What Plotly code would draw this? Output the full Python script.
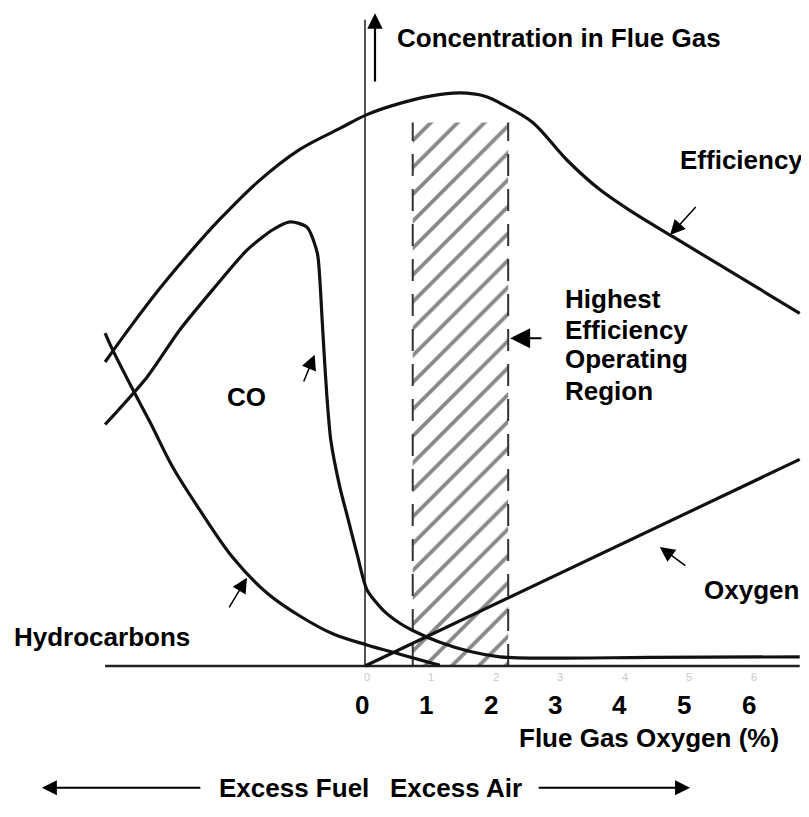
import plotly.graph_objects as go

# x = flue gas oxygen (%), y = relative concentration (0 = baseline)
eff_x = [-4.03, -3.64, -3.18, -2.71, -2.25, -1.67, -1.01, -0.39, 0.03, 0.54, 1.01,
         1.47, 1.86, 2.20, 2.60, 3.13, 3.64, 4.16, 4.78, 5.71, 6.74]
eff_y = [46.2, 51.5, 57.4, 62.9, 67.9, 73.5, 78.5, 81.7, 83.8, 85.5, 86.6,
         87.1, 86.6, 85.0, 82.6, 76.9, 72.4, 68.9, 65.2, 59.7, 53.6]

co_x = [-4.03, -3.38, -2.87, -2.36, -1.83, -1.43, -1.16, -0.90, -0.74, -0.70, -0.67,
        -0.64, -0.59, -0.53, -0.39, -0.28, -0.12, 0.03, 0.28, 0.54, 0.74, 1.16,
        1.63, 2.09, 2.56, 4.42, 6.74]
co_y = [36.7, 43.9, 51.1, 57.2, 63.2, 66.3, 67.5, 66.7, 62.8, 58.7, 53.6,
        48.5, 40.9, 34.3, 27.2, 23.0, 16.9, 11.6, 8.5, 6.5, 5.4, 3.6,
        2.2, 1.4, 1.2, 1.3, 1.4]

hc_x = [-4.03, -3.91, -3.61, -3.33, -2.98, -2.56, -2.05, -1.52, -1.01, -0.50, 0.03, 0.54, 1.16]
hc_y = [50.6, 48.0, 42.2, 37.0, 30.2, 23.7, 16.5, 11.1, 7.6, 4.9, 3.2, 1.8, 0.1]

o2_x = [0.0, 6.74]
o2_y = [0.0, 31.4]

region_x = [0.74, 2.22]     # highest efficiency operating region
region_top = 82.6
baseline_x = [-4.03, 6.74]
tick_vals = [0, 1, 2, 3, 4, 5, 6]

X_RANGE = [-5.535, 7.008]
Y_RANGE = [-24.16, 100]
FONT = "Liberation Sans, Arial, sans-serif"
INK = "#111111"

fig = go.Figure()

# hatched region
fig.add_trace(go.Scatter(
    x=[region_x[0], region_x[1], region_x[1], region_x[0], region_x[0]],
    y=[0, 0, region_top, region_top, 0],
    fill='toself', mode='none', fillcolor='rgba(0,0,0,0)',
    fillpattern=dict(shape='/', size=19, solidity=0.2, fgcolor='#111111', bgcolor='white'),
    hoverinfo='skip'))
for xv in region_x:
    fig.add_trace(go.Scatter(x=[xv, xv], y=[0, region_top], mode='lines',
                             line=dict(color='#333333', width=2, dash='22px,13px')))

# axes drawn as lines
fig.add_trace(go.Scatter(x=[0, 0], y=[0, 98.2], mode='lines',
                         line=dict(color='#555555', width=2)))
fig.add_trace(go.Scatter(x=baseline_x, y=[0, 0], mode='lines',
                         line=dict(color='#222222', width=2.5)))

# curves
fig.add_trace(go.Scatter(x=eff_x, y=eff_y, mode='lines',
                         line=dict(color=INK, width=3.2, shape='spline', smoothing=1)))
fig.add_trace(go.Scatter(x=co_x, y=co_y, mode='lines',
                         line=dict(color=INK, width=3.2, shape='spline', smoothing=0.7)))
fig.add_trace(go.Scatter(x=hc_x, y=hc_y, mode='lines',
                         line=dict(color=INK, width=3.2, shape='spline', smoothing=1)))
fig.add_trace(go.Scatter(x=o2_x, y=o2_y, mode='lines',
                         line=dict(color=INK, width=3.2)))

annotations = []


def arrow(tip, tail, width=1.5, size=2.0, head=2):
    annotations.append(dict(x=tip[0], y=tip[1], ax=tail[0], ay=tail[1],
                            xref='x', yref='y', axref='x', ayref='y',
                            text='', showarrow=True, arrowhead=head,
                            arrowsize=size, arrowwidth=width, arrowcolor='black'))


def label(text, x, y, size=26, xanchor='left', color='black', bold=True):
    annotations.append(dict(x=x, y=y, xref='x', yref='y', text=f'<b>{text}</b>' if bold else text,
                            showarrow=False, xanchor=xanchor, yanchor='middle',
                            font=dict(family=FONT, size=size, color=color)))


arrow((0.155, 99.2), (0.155, 88.6), width=2.2, size=1.4)
arrow((4.73, 65.5), (5.15, 70.0))
arrow((2.25, 49.8), (2.76, 49.8), width=2)
arrow((-0.78, 47.3), (-0.96, 43.0))
arrow((-1.83, 13.4), (-2.12, 8.7))
arrow((4.57, 18.1), (4.99, 15.1))
arrow((-5.01, -18.5), (-2.53, -18.5), width=2, size=1.5)
arrow((5.04, -18.5), (2.67, -18.5), width=2, size=1.5)

label('Concentration in Flue Gas', 0.465, 95.4)
label('Efficiency', 4.85, 76.9)
for txt, yy in zip(['Highest', 'Efficiency', 'Operating', 'Region'], [55.8, 51.1, 46.6, 41.8]):
    label(txt, 3.07, yy)
label('CO', -1.845, 40.9, xanchor='center')
label('Hydrocarbons', -5.47, 4.4)
label('Oxygen', 5.23, 11.6)
for t in tick_vals:
    label(str(t), t - 0.05, -5.9, xanchor='center')
    label(str(t), t + 0.03, -1.7, size=11, xanchor='center', color='#c8c8c8', bold=False)
label('Flue Gas Oxygen (%)', 2.357, -10.9)
label('Excess Fuel', -1.10, -18.5, xanchor='center')
label('Excess Air', 1.41, -18.5, xanchor='center')

fig.update_layout(
    width=809, height=817,
    margin=dict(l=0, r=0, t=0, b=0),
    paper_bgcolor='white', plot_bgcolor='white',
    showlegend=False,
    xaxis=dict(range=X_RANGE, visible=False, fixedrange=True),
    yaxis=dict(range=Y_RANGE, visible=False, fixedrange=True),
    annotations=annotations,
)

fig.write_html("out.html")
